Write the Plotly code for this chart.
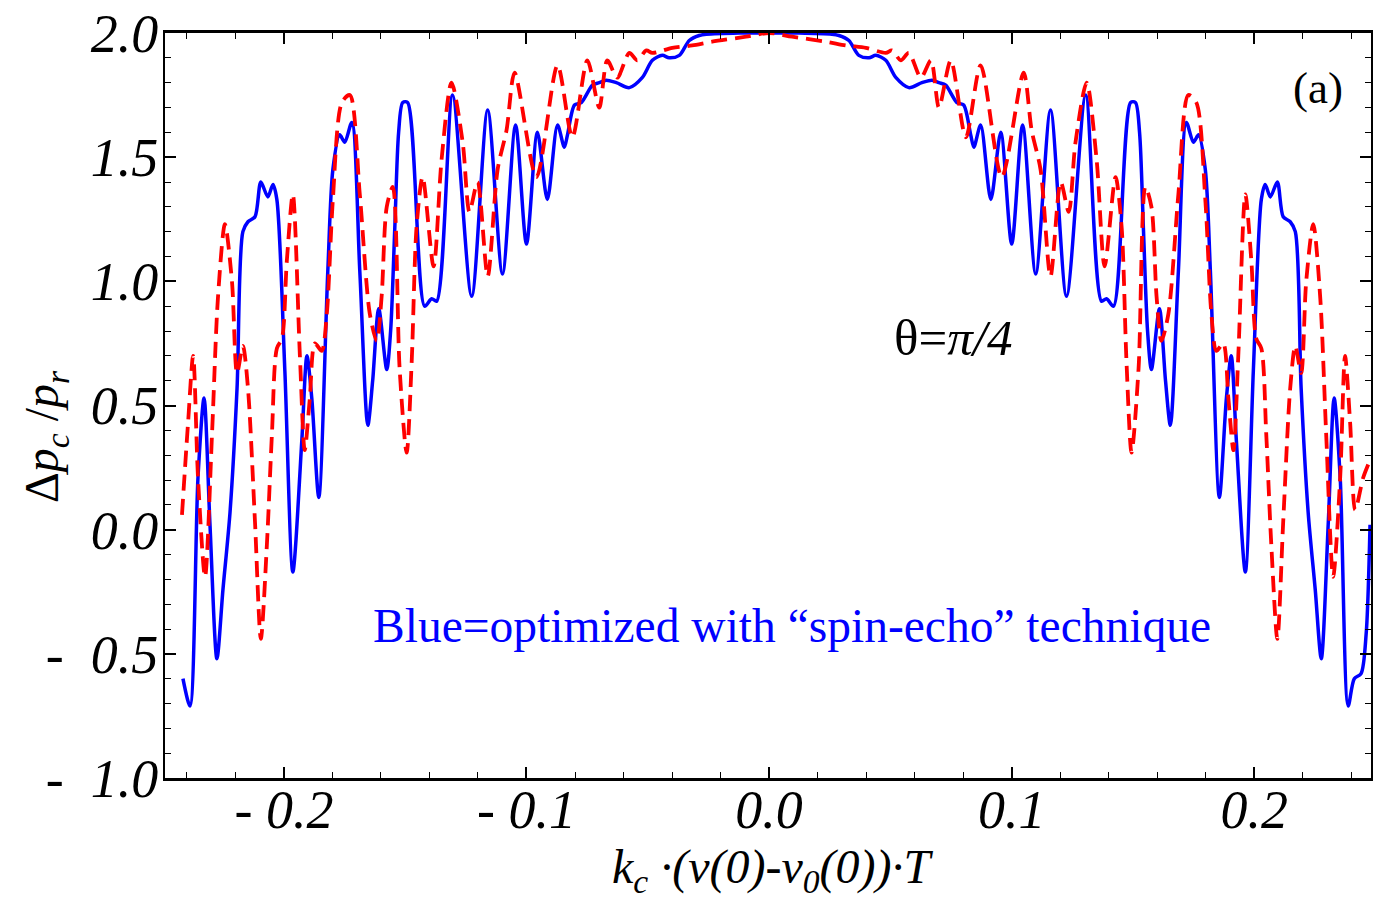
import plotly.graph_objects as go

# ---- data ----
blue_x = [-0.2416, -0.2387, -0.2354, -0.2329, -0.2305, -0.2276, -0.2251, -0.2222, -0.2193, -0.2169,
          -0.2148, -0.2119, -0.2095, -0.2066, -0.2045, -0.2029, -0.1996, -0.1963, -0.1926, -0.1905,
          -0.1885, -0.1856, -0.1819, -0.1798, -0.1770, -0.1749, -0.1720, -0.1687, -0.1654, -0.1634,
          -0.1609, -0.1576, -0.1560, -0.1543, -0.1527, -0.1510, -0.1490, -0.1420, -0.1391, -0.1370,
          -0.1305, -0.1226, -0.1160, -0.1099, -0.1045, -0.1000, -0.0955, -0.0914, -0.0872, -0.0844,
          -0.0831, -0.0802, -0.0774, -0.0728, -0.0700, -0.0671, -0.0630, -0.0576, -0.0523, -0.0481,
          -0.0440, -0.0412, -0.0370, -0.0329, -0.0288, -0.0259, -0.0123, 0.0,
          0.0123, 0.0259, 0.0288, 0.0329, 0.0370, 0.0412, 0.0440, 0.0481, 0.0523, 0.0576,
          0.0630, 0.0671, 0.0700, 0.0728, 0.0774, 0.0802, 0.0831, 0.0844, 0.0872, 0.0914,
          0.0955, 0.1000, 0.1045, 0.1099, 0.1160, 0.1226, 0.1305, 0.1370, 0.1391, 0.1420,
          0.1490, 0.1510, 0.1527, 0.1543, 0.1560, 0.1576, 0.1609, 0.1634, 0.1654, 0.1687,
          0.1720, 0.1749, 0.1770, 0.1798, 0.1819, 0.1856, 0.1885, 0.1905, 0.1926, 0.1963,
          0.1996, 0.2029, 0.2045, 0.2066, 0.2095, 0.2119, 0.2148, 0.2169, 0.2193, 0.2222,
          0.2251, 0.2276, 0.2305, 0.2329, 0.2354, 0.2387, 0.2412, 0.2440, 0.2461, 0.2477]
blue_y = [-0.60, -0.71, 0.21, 0.53, 0.03, -0.52, -0.24, 0.07, 0.57, 1.20,
          1.24, 1.26, 1.40, 1.34, 1.39, 1.33, 0.64, -0.17, 0.36, 0.70,
          0.53, 0.13, 1.04, 1.45, 1.59, 1.56, 1.64, 1.04, 0.42, 0.60,
          0.89, 0.645, 0.80, 1.21, 1.60, 1.72, 1.72, 0.90, 0.93, 0.92,
          1.75, 0.94, 1.69, 1.03, 1.63, 1.15, 1.60, 1.33, 1.63, 1.54,
          1.59, 1.71, 1.72, 1.79, 1.80, 1.81, 1.80, 1.78, 1.82, 1.89,
          1.91, 1.90, 1.91, 1.97, 1.99, 1.995, 2.0, 2.0,
          2.0, 1.995, 1.99, 1.97, 1.91, 1.90, 1.91, 1.89, 1.82, 1.78,
          1.80, 1.81, 1.80, 1.79, 1.72, 1.71, 1.59, 1.54, 1.63, 1.33,
          1.60, 1.15, 1.63, 1.03, 1.69, 0.94, 1.75, 0.92, 0.93, 0.90,
          1.72, 1.72, 1.60, 1.21, 0.80, 0.645, 0.89, 0.60, 0.42, 1.04,
          1.64, 1.56, 1.59, 1.45, 1.04, 0.13, 0.53, 0.70, 0.36, -0.17,
          0.64, 1.33, 1.39, 1.34, 1.40, 1.26, 1.24, 1.20, 0.57, 0.07,
          -0.24, -0.52, 0.03, 0.53, 0.21, -0.71, -0.60, -0.58, -0.42, 0.02]

red_x = [-0.2420, -0.2395, -0.2374, -0.2354, -0.2325, -0.2296, -0.2272, -0.2243, -0.2214, -0.2193,
         -0.2169, -0.2148, -0.2119, -0.2095, -0.2070, -0.2049, -0.2029, -0.2008, -0.1988, -0.1963,
         -0.1934, -0.1914, -0.1893, -0.1872, -0.1844, -0.1823, -0.1798, -0.1761, -0.1728, -0.1687,
         -0.1646, -0.1617, -0.1597, -0.1576, -0.1551, -0.1523, -0.1494, -0.1473, -0.1453, -0.1428,
         -0.1383, -0.1350, -0.1309, -0.1263, -0.1235, -0.1202, -0.1160, -0.1119, -0.1082, -0.1049,
         -0.0959, -0.0872, -0.0811, -0.0749, -0.0700, -0.0667, -0.0626, -0.0576, -0.0543, -0.0506,
         -0.0481, -0.0399, -0.0317, -0.0235, -0.0095, 0.0,
         0.0095, 0.0235, 0.0317, 0.0399, 0.0481, 0.0506, 0.0543, 0.0576, 0.0626, 0.0667,
         0.0700, 0.0749, 0.0811, 0.0872, 0.0959, 0.1049, 0.1082, 0.1119, 0.1160, 0.1202,
         0.1235, 0.1263, 0.1309, 0.1350, 0.1383, 0.1428, 0.1453, 0.1473, 0.1494, 0.1523,
         0.1551, 0.1576, 0.1597, 0.1617, 0.1646, 0.1687, 0.1728, 0.1761, 0.1798, 0.1823,
         0.1844, 0.1872, 0.1893, 0.1914, 0.1934, 0.1963, 0.1988, 0.2008, 0.2029, 0.2049,
         0.2070, 0.2095, 0.2119, 0.2148, 0.2169, 0.2193, 0.2214, 0.2243, 0.2272, 0.2296,
         0.2325, 0.2354, 0.2374, 0.2395, 0.2416, 0.2449, 0.2477]
red_y = [0.06, 0.43, 0.70, 0.21, -0.19, 0.39, 0.93, 1.23, 1.0, 0.63,
         0.74, 0.57, 0.03, -0.44, -0.06, 0.39, 0.73, 0.77, 1.08, 1.35,
         0.70, 0.32, 0.53, 0.75, 0.72, 0.87, 1.33, 1.72, 1.75, 1.35,
         0.87, 0.76, 0.94, 1.30, 1.38, 0.65, 0.31, 0.68, 1.22, 1.42,
         1.06, 1.49, 1.80, 1.56, 1.28, 1.40, 1.02, 1.45, 1.61, 1.84,
         1.42, 1.87, 1.58, 1.89, 1.70, 1.89, 1.82, 1.92, 1.89, 1.93,
         1.92, 1.94, 1.95, 1.965, 1.985, 2.0,
         1.985, 1.965, 1.95, 1.94, 1.92, 1.93, 1.89, 1.92, 1.82, 1.89,
         1.70, 1.89, 1.58, 1.87, 1.42, 1.84, 1.61, 1.45, 1.02, 1.40,
         1.28, 1.56, 1.80, 1.49, 1.06, 1.42, 1.22, 0.68, 0.31, 0.65,
         1.38, 1.30, 0.94, 0.76, 0.87, 1.35, 1.75, 1.72, 1.33, 0.87,
         0.72, 0.75, 0.53, 0.32, 0.70, 1.35, 1.08, 0.77, 0.73, 0.39,
         -0.06, -0.44, 0.03, 0.57, 0.74, 0.63, 1.0, 1.23, 0.93, 0.39,
         -0.19, 0.21, 0.70, 0.43, 0.08, 0.21, 0.28]

x_tickvals = [-0.2, -0.1, 0.0, 0.1, 0.2]
x_ticktext = ["-\u00a00.2", "-\u00a00.1", "0.0", "0.1", "0.2"]
y_tickvals = [-1.0, -0.5, 0.0, 0.5, 1.0, 1.5, 2.0]
y_ticktext = ["-\u00a0\u00a01.0", "-\u00a0\u00a00.5", "0.0", "0.5", "1.0", "1.5", "2.0"]

SERIF = "Liberation Serif, Times New Roman, serif"

fig = go.Figure()
fig.add_trace(go.Scatter(x=blue_x, y=blue_y, mode="lines",
                         line=dict(color="#0000ff", width=3.5, shape="spline", smoothing=0.8),
                         showlegend=False))
fig.add_trace(go.Scatter(x=red_x, y=red_y, mode="lines",
                         line=dict(color="#ff0000", width=3.8, dash="16px,8px", shape="spline", smoothing=0.8),
                         showlegend=False))

fig.update_layout(
    width=1373, height=901,
    margin=dict(l=165, r=0, t=33, b=123),
    paper_bgcolor="white", plot_bgcolor="white",
    showlegend=False,
    xaxis=dict(range=[-0.249, 0.2481], tickvals=x_tickvals, ticktext=x_ticktext,
               ticks="inside", ticklen=11, tickwidth=1.5, tickcolor="black",
               showline=True, linewidth=3, linecolor="black", mirror="ticks",
               showgrid=False, zeroline=False, ticklabelstandoff=-18,
               tickfont=dict(family=SERIF, size=54, color="black", style="italic"),
               minor=dict(dtick=0.02, tick0=0, ticks="inside", ticklen=6, tickwidth=1, tickcolor="black")),
    yaxis=dict(range=[-1.0, 2.0], tickvals=y_tickvals, ticktext=y_ticktext,
               ticks="inside", ticklen=11, tickwidth=1.5, tickcolor="black",
               showline=True, linewidth=2, linecolor="black", mirror="ticks",
               showgrid=False, zeroline=False, ticklabelstandoff=-6,
               tickfont=dict(family=SERIF, size=54, color="black", style="italic"),
               minor=dict(dtick=0.1, tick0=0, ticks="inside", ticklen=6, tickwidth=1, tickcolor="black")),
)

fig.add_annotation(x=0.504, y=-0.123, xref="paper", yref="paper", showarrow=False,
                   text="<i>k<sub>c</sub> ·(v(0)-v<sub>0</sub>(0))·T</i>",
                   font=dict(family=SERIF, size=48, color="black"), xanchor="center", yanchor="middle")
fig.add_annotation(x=-0.0993, y=0.458, xref="paper", yref="paper", showarrow=False, textangle=-90,
                   text="Δ<i>p<sub>c</sub></i> /<i>p<sub>r</sub></i>",
                   font=dict(family=SERIF, size=48, color="black"), xanchor="center", yanchor="middle")
fig.add_annotation(x=0.2263, y=1.78, xref="x", yref="y", showarrow=False, text="(a)",
                   font=dict(family=SERIF, size=45, color="black"), xanchor="center", yanchor="middle")
fig.add_annotation(x=0.0757, y=0.77, xref="x", yref="y", showarrow=False, text="θ=<i>π/4</i>",
                   font=dict(family=SERIF, size=51, color="black"), xanchor="center", yanchor="middle")
fig.add_annotation(x=0.0095, y=-0.387, xref="x", yref="y", showarrow=False,
                   text="Blue=optimized with “spin-echo” technique",
                   font=dict(family=SERIF, size=47.5, color="#0000ff"), xanchor="center", yanchor="middle")

fig.write_html("out.html")
